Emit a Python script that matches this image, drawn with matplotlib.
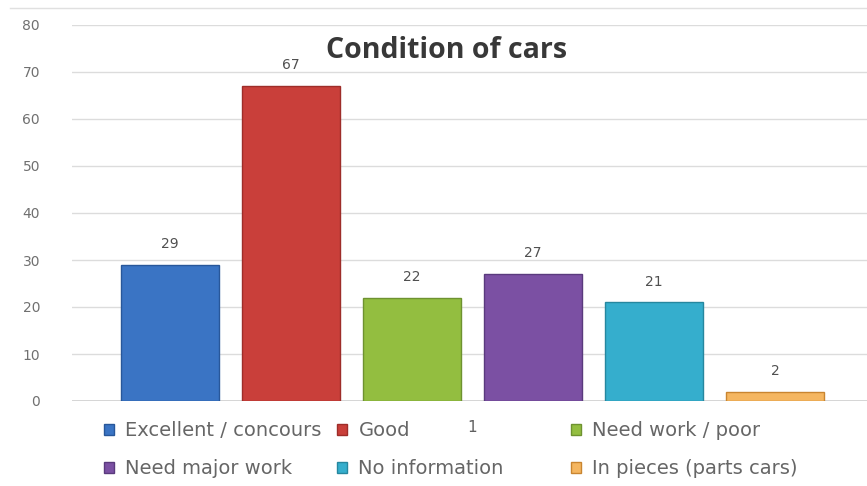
import matplotlib
matplotlib.use('Agg')
import matplotlib.pyplot as plt
from matplotlib.patches import Patch
from matplotlib.lines import Line2D

categories = ['Excellent / concours', 'Good', 'Need work / poor',
              'Need major work', 'No information', 'In pieces (parts cars)']
values = [29, 67, 22, 27, 21, 2]
colors = ['#3A74C4', '#C93F3A', '#93BE40', '#7B50A3', '#35AECD', '#F5B660']
edges = ['#28579A', '#9E2D29', '#6E9230', '#5A3A7D', '#26879F', '#C98530']
yticks = [0, 10, 20, 30, 40, 50, 60, 70, 80]
xtick_label = '1'

W, H = 867, 486
fig = plt.figure(figsize=(W / 100, H / 100), dpi=100)
ax = fig.add_axes([72 / W, 1 - 401 / H, 1 - 72 / W, (401 - 25) / H])

x = list(range(len(values)))
ax.bar(x, values, width=0.81, color=colors, edgecolor=edges, linewidth=1.0, zorder=3)
for xi, v in zip(x, values):
    ax.text(xi, v + 4.4, str(v), ha='center', va='center', fontsize=10, color='#505050')

ax.set_ylim(0, 80)
ax.set_xlim(-0.81, 5.76)
ax.set_yticks(yticks)
ax.set_yticklabels([str(t) for t in yticks], fontsize=10, color='#707070')
ax.set_xticks([2.5])
ax.set_xticklabels([xtick_label], fontsize=11, color='#606060')
ax.tick_params(axis='both', length=0)
ax.tick_params(axis='y', pad=23)
ax.tick_params(axis='x', pad=14)
ax.grid(axis='y', color='#DCDCDC', lw=1, zorder=0)
for s in ax.spines.values():
    s.set_visible(False)
ax.axhline(0, color='#D0D0D0', lw=1.2, zorder=2)

fig.text(447 / W, 1 - 50 / H, 'Condition of cars', ha='center', va='center',
         fontsize=20.5, fontweight='bold', color='#383838', family='Open Sans')

# top border of the chart area
fig.add_artist(Line2D([10 / W, 1], [1 - 8 / H, 1 - 8 / H], color='#E0E0E0', lw=1))

# legend: three columns of two rows
cols = [(0, 3), (1, 4), (2, 5)]
col_x = [104, 337, 571]
for (i, j), cx in zip(cols, col_x):
    handles = [Patch(facecolor=colors[k], edgecolor=edges[k], label=categories[k]) for k in (i, j)]
    fig.legend(handles=handles, loc='upper left', bbox_to_anchor=(cx / W, 1 - 421 / H),
               frameon=False, fontsize=14, handlelength=0.5, handleheight=0.5,
               handletextpad=0.6, borderpad=0, borderaxespad=0, labelspacing=1.0,
               labelcolor='#666666')

fig.savefig('out.png', dpi=100)
